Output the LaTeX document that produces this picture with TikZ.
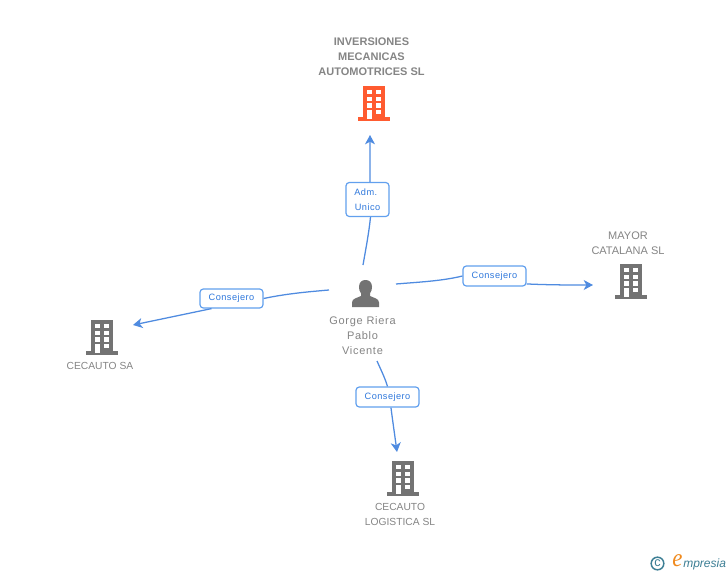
\documentclass[tikz,border=0pt]{standalone}
\usepackage{fontspec}
\setmainfont{Liberation Sans}
\newfontfamily\spacedfont[LetterSpace=5]{Liberation Sans}
\newfontfamily\widefont[LetterSpace=6.5]{Liberation Sans}
\newfontfamily\logofont[Ligatures=TeX]{Liberation Serif}
\usetikzlibrary{arrows.meta}
\definecolor{bgrey}{HTML}{737373}
\definecolor{borange}{HTML}{FF5B30}
\definecolor{tgrey}{HTML}{858585}
\definecolor{eblue}{HTML}{4F8BE0}
\definecolor{lblue}{HTML}{2F78DC}
\definecolor{boxb}{HTML}{62A0EE}
\definecolor{logoteal}{HTML}{3D7F95}
\definecolor{logoor}{HTML}{F08A1D}
\tikzset{
  x=0.75pt,y=-0.75pt,
  anchorpt/.style={inner sep=0pt,minimum size=1pt},
  txt/.style={text=tgrey,font=\fontsize{8.25pt}{11.25pt}\selectfont,align=center,inner sep=0pt},
  smalltxt/.style={txt,font=\fontsize{7.7pt}{11.25pt}\selectfont},
  widetxt/.style={txt,font=\fontsize{8.25pt}{11.25pt}\widefont},
  boldtxt/.style={txt,font=\fontsize{8.25pt}{11.25pt}\selectfont\bfseries},
  rel/.style={draw=boxb,line width=0.9pt,rounded corners=2.5pt,fill=white,text=lblue,align=center,inner sep=0pt,
     font=\fontsize{6.9pt}{11.6pt}\spacedfont},
  link/.style={draw=eblue,line width=0.95pt},
  tip/.style={link,-{Stealth[length=7pt,width=7.5pt,inset=2pt]}},
  pics/bldg/.style={code={
    \fill[#1] (-11,0) rectangle (11,33);
    \fill[#1] (-16,31) rectangle (16,34.5);
    \foreach \cx in {-7,2.3}{\foreach \cy in {4,10.9,17.3}{
      \fill[white] (\cx,\cy) rectangle ++(5,4.2);}}
    \fill[white] (-7,23.6) rectangle (-2,33);
    \fill[white] (2.3,23.6) rectangle ++(5,4.4);
  }},
}
\begin{document}
\begin{tikzpicture}
\useasboundingbox (0,0) rectangle (728,575);
\fill[white] (0,0) rectangle (728,575);

% buildings
\node[anchorpt] (top) at (374,102) {};
\node[anchorpt] (left) at (102,337) {};
\node[anchorpt] (right) at (631,281) {};
\node[anchorpt] (bottom) at (403,478) {};
\pic at (374,86) {bldg=borange};
\pic at (102,320) {bldg=bgrey};
\pic at (631,264) {bldg=bgrey};
\pic at (403,461) {bldg=bgrey};

% person
\node[anchorpt] (person) at (365,293) {};
\fill[bgrey] (352,307) -- (352,302.5) .. controls (352,298.5) and (357,298) .. (361,296) -- (361,293.5) .. controls (359.5,291.5) and (358.8,288.5) .. (359,286.5) .. controls (359.3,282) and (362,280) .. (365.5,280) .. controls (369,280) and (371.7,282) .. (372,286.5) .. controls (372.2,288.5) and (371.5,291.5) .. (370,293.5) -- (370,296) .. controls (374,298) and (379,298.5) .. (379,302.5) -- (379,307) -- cycle;

% titles
\node[boldtxt] at (371.5,56.5) {INVERSIONES\\MECANICAS\\AUTOMOTRICES SL};
\node[smalltxt] at (100,366) {CECAUTO SA};
\node[txt] at (628,243) {MAYOR\\CATALANA SL};
\node[smalltxt] at (400,514.5) {CECAUTO\\LOGISTICA SL};
\node[widetxt] at (362.5,335.5) {Gorge Riera\\Pablo\\Vicente};

% relation labels
\node[rel,minimum width=32.25pt,minimum height=25.5pt] (adm) at (367.5,199.5) {\hspace*{-2.5pt}Adm.\\Unico};
\node[rel,minimum width=47.25pt,minimum height=14.25pt] (cl) at (231.5,298.5) {\raisebox{-1.5pt}{Consejero}};
\node[rel,minimum width=47.25pt,minimum height=15pt] (cr) at (494.5,276) {\raisebox{-1.5pt}{Consejero}};
\node[rel,minimum width=47.25pt,minimum height=15pt] (cb) at (387.5,397) {\raisebox{-1.5pt}{Consejero}};

% free ends
\coordinate (p1) at (363,265);
\coordinate (p2) at (329,290);
\coordinate (p3) at (396,284);
\coordinate (p4) at (377,361);
\coordinate (t1) at (370,135);
\coordinate (t2) at (133,325);
\coordinate (t3) at (593,285);
\coordinate (t4) at (397,452);

% connectors
\draw[link] (p1) .. controls (366,248) and (369,232) .. ([xshift=2.25pt]adm.south);
\draw[tip] ([xshift=1.9pt]adm.north) .. controls (370,165) and (370,150) .. (t1);
\draw[link] (p2) .. controls (305,292) and (285,294) .. (cl.east);
\draw[tip] ([xshift=-15pt]cl.south) -- (t2);
\draw[link] (p3) .. controls (420,282) and (442,281) .. (cr.west);
\draw[tip] ([yshift=2pt]cr.south east) .. controls (550,285) and (570,285) .. (t3);
\draw[link] (p4) .. controls (381,370) and (385,378) .. (cb.north);
\draw[tip] ([xshift=2.6pt]cb.south) .. controls (392.5,420) and (395,437) .. (t4);

% logo
\node[draw=logoteal,circle,line width=1.1pt,minimum size=9.5pt,inner sep=0pt,text=logoteal,font=\fontsize{9.5pt}{9.5pt}\selectfont] (copy) at (657.5,563.5) {\raisebox{0.8pt}{c}};
\node[text=logoor,font=\fontsize{19pt}{19pt}\logofont\itshape,inner sep=0pt,xscale=0.9,transform shape] (elogo) at (677.5,561) {e};
\node[text=logoteal,font=\fontsize{9pt}{10pt}\itshape,inner sep=0pt,anchor=west] (mlogo) at (683,564) {mpresia};
\end{tikzpicture}
\end{document}
